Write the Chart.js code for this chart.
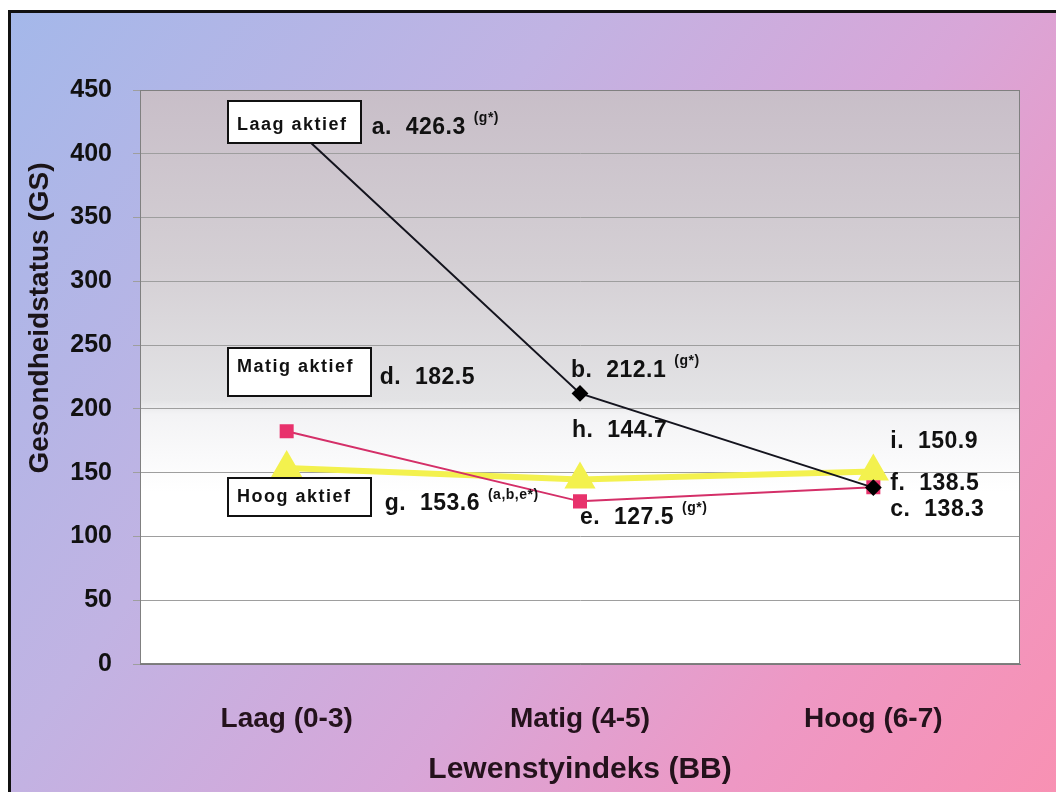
<!DOCTYPE html>
<html>
<head>
<meta charset="utf-8">
<title>Gesondheidstatus volgens lewenstyindeks</title>
<script src="https://cdn.jsdelivr.net/npm/chart.js@4.4.1/dist/chart.umd.min.js"></script>
<style>
  html, body { margin: 0; padding: 0; background: #ffffff; }
  #wrap { width: 1056px; height: 792px; position: relative; }
</style>
</head>
<body>
<div id="wrap"><canvas id="chart" width="1056" height="792"></canvas></div>
<script>
// Categories on the x axis (lifestyle index groups)
const categories = ['Laag (0-3)', 'Matig (4-5)', 'Hoog (6-7)'];

// Activity groups and their health status values
const seriesNames = ['Laag aktief', 'Matig aktief', 'Hoog aktief'];
const laagAktief = [426.3, 212.1, 138.3];
const matigAktief = [182.5, 127.5, 138.5];
const hoogAktief = [153.6, 144.7, 150.9];

// Point letters and significance notes printed beside each value
const laagLetters = ['a', 'b', 'c'];
const matigLetters = ['d', 'e', 'f'];
const hoogLetters = ['g', 'h', 'i'];
const laagNotes = ['(g*)', '(g*)', ''];
const matigNotes = ['', '(g*)', ''];
const hoogNotes = ['(a,b,e*)', '', ''];

// Y axis tick values
const yTicks = [0, 50, 100, 150, 200, 250, 300, 350, 400, 450];

// Placement of the value labels relative to their points (px)
const labelOffsets = [
  [[85, 7], [-9, -23], [17, 22]],
  [[93, -54], [0, 16], [17, -4]],
  [[98, 36], [-8, -49], [17, -30]]
];
// Series name boxes: left, top, width, height, text baseline offset
const nameBoxes = [
  { x: 228, y: 101, w: 133, h: 42, ty: 29 },
  { x: 228, y: 348, w: 143, h: 48, ty: 24 },
  { x: 228, y: 478, w: 143, h: 38, ty: 24 }
];

const letterSets = [laagLetters, matigLetters, hoogLetters];
const noteSets = [laagNotes, matigNotes, hoogNotes];

const backdrop = {
  id: 'backdrop',
  beforeDraw(chart) {
    const { ctx, chartArea: a, width, height } = chart;
    ctx.save();
    ctx.fillStyle = '#ffffff';
    ctx.fillRect(0, 0, width, height);
    const g = ctx.createLinearGradient(0, 0, width, height);
    g.addColorStop(0, '#a3b8ea');
    g.addColorStop(0.35, '#c1b3e3');
    g.addColorStop(0.6, '#d8a6d8');
    g.addColorStop(0.8, '#ee98c4');
    g.addColorStop(1, '#f891b3');
    ctx.fillStyle = g;
    ctx.fillRect(10, 12, width - 10, height - 12);
    ctx.fillStyle = '#111111';
    ctx.fillRect(8, 10, width - 8, 3);
    ctx.fillRect(8, 10, 3, height - 10);
    const pg = ctx.createLinearGradient(0, a.top, 0, a.bottom);
    pg.addColorStop(0, '#c8bec8');
    pg.addColorStop(0.3, '#d4cfd4');
    pg.addColorStop(0.54, '#e3e3e5');
    pg.addColorStop(0.565, '#f3f3f5');
    pg.addColorStop(0.7, '#ffffff');
    pg.addColorStop(1, '#ffffff');
    ctx.fillStyle = pg;
    ctx.fillRect(a.left, a.top, a.right - a.left, a.bottom - a.top);
    ctx.restore();
  },
  afterDatasetsDraw(chart) {
    const { ctx, chartArea: a, scales } = chart;
    ctx.save();
    // plot frame
    ctx.strokeStyle = '#808080';
    ctx.lineWidth = 1;
    ctx.strokeRect(a.left + 0.5, a.top + 0.5, a.right - a.left - 1, a.bottom - a.top - 1);

    // value labels
    ctx.fillStyle = '#111111';
    ctx.textBaseline = 'middle';
    ctx.textAlign = 'left';
    chart.data.datasets.forEach((ds, si) => {
      ds.data.forEach((v, i) => {
        const px = scales.x.getPixelForValue(i);
        const py = scales.y.getPixelForValue(v);
        const [dx, dy] = labelOffsets[si][i];
        const tx = px + dx, ty = py + dy;
        ctx.font = 'bold 23px "Liberation Sans", Arial, sans-serif';
        ctx.letterSpacing = '0.5px';
        const text = letterSets[si][i] + '.  ' + v.toFixed(1);
        ctx.fillText(text, tx, ty);
        const note = noteSets[si][i];
        if (note) {
          const w = ctx.measureText(text).width;
          ctx.font = 'bold 14px "Liberation Sans", Arial, sans-serif';
          ctx.letterSpacing = '0.5px';
          ctx.fillText(note, tx + w + 8, ty - 9);
        }
      });
    });

    // series name boxes
    ctx.letterSpacing = '1.5px';
    ctx.font = 'bold 18px "Liberation Sans", Arial, sans-serif';
    ctx.textBaseline = 'alphabetic';
    nameBoxes.forEach((b, i) => {
      ctx.fillStyle = '#ffffff';
      ctx.fillRect(b.x, b.y, b.w, b.h);
      ctx.strokeStyle = '#111111';
      ctx.lineWidth = 2;
      ctx.strokeRect(b.x, b.y, b.w, b.h);
      ctx.fillStyle = '#111111';
      ctx.fillText(seriesNames[i], b.x + 9, b.y + b.ty);
    });

    // y axis title
    ctx.letterSpacing = '0px';
    ctx.translate(40, 318);
    ctx.rotate(-Math.PI / 2);
    ctx.textAlign = 'center';
    ctx.textBaseline = 'middle';
    ctx.font = 'bold 28px "Liberation Sans", Arial, sans-serif';
    ctx.fillStyle = '#1a1418';
    ctx.fillText('Gesondheidstatus (GS)', 0, 0);
    ctx.restore();
  }
};

new Chart(document.getElementById('chart'), {
  type: 'line',
  data: {
    labels: categories,
    datasets: [
      {
        label: seriesNames[0], data: laagAktief,
        borderColor: '#14141e', backgroundColor: '#000000',
        borderWidth: 2, pointStyle: 'rectRot', pointRadius: 7,
        pointBackgroundColor: '#000000', pointBorderColor: '#000000', tension: 0
      },
      {
        label: seriesNames[1], data: matigAktief,
        borderColor: '#d42f68', backgroundColor: '#e8326c',
        borderWidth: 2, pointStyle: 'rect', pointRadius: 8.5,
        pointBackgroundColor: '#e8326c', pointBorderColor: '#e8326c', tension: 0
      },
      {
        label: seriesNames[2], data: hoogAktief,
        borderColor: '#f3f14e', backgroundColor: '#f3f14e',
        borderWidth: 6, pointStyle: 'triangle', pointRadius: 12,
        pointBackgroundColor: '#f3f14e', pointBorderColor: '#f3f14e', tension: 0
      }
    ]
  },
  options: {
    responsive: false,
    animation: false,
    events: [],
    layout: { padding: { top: 90, right: 36, left: 0, bottom: 0 } },
    plugins: { legend: { display: false }, tooltip: { enabled: false } },
    scales: {
      x: {
        offset: true,
        grid: { display: false, drawTicks: false },
        border: { display: true, color: '#7a7a7a', width: 1 },
        ticks: {
          padding: 38,
          color: '#24121c',
          font: { family: '"Liberation Sans", Arial, sans-serif', size: 28, weight: 'bold' }
        },
        title: {
          display: true,
          text: 'Lewenstyindeks (BB)',
          color: '#24121c',
          padding: { top: 0, bottom: 4 },
          font: { family: '"Liberation Sans", Arial, sans-serif', size: 30, weight: 'bold' }
        },
        afterFit(scale) { scale.height = 128; }
      },
      y: {
        min: 0, max: 450,
        afterBuildTicks(scale) { scale.ticks = yTicks.map(v => ({ value: v })); },
        grid: { color: '#9e9e9e', lineWidth: 1, drawTicks: true, tickLength: 7 },
        border: { display: true, color: '#7a7a7a', width: 1 },
        ticks: {
          padding: 21,
          color: '#111111',
          font: { family: '"Liberation Sans", Arial, sans-serif', size: 25, weight: 'bold' }
        },
        afterFit(scale) { scale.width = 140; }
      }
    }
  },
  plugins: [backdrop]
});
</script>
</body>
</html>
